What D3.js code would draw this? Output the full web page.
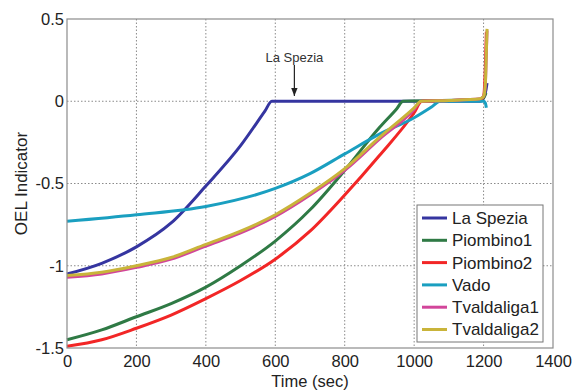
<!DOCTYPE html>
<html>
<head>
<meta charset="utf-8">
<script src="https://cdn.jsdelivr.net/npm/d3@7"></script>
<style>
  body { margin: 0; background: #fff; }
  svg { font-family: "Liberation Sans", Arial, sans-serif; }
  .grid line { stroke: #8a8a8a; stroke-dasharray: 1.5,2; }
  .axis text { font-size: 16.5px; fill: #222; }
  .axis path, .axis line { display: none; }
</style>
</head>
<body>
<svg width="575" height="392"></svg>
<script>
// series names and colours
const names = ["La Spezia", "Piombino1", "Piombino2", "Vado", "Tvaldaliga1", "Tvaldaliga2"];
const colors = ["#3535a0", "#2f7a45", "#f22626", "#1a9fc0", "#d2459a", "#c9b43a"];

// values (time in sec, OEL indicator)
const laSpeziaT = [0, 100, 200, 300, 400, 500, 570, 590, 1190, 1200, 1207, 1210];
const laSpeziaV = [-1.05, -0.985, -0.885, -0.74, -0.515, -0.27, -0.06, 0, 0, 0.02, 0.07, 0.11];

const piombino1T = [0, 100, 200, 300, 400, 500, 600, 700, 800, 900, 950, 968, 1190, 1200, 1207];
const piombino1V = [-1.45, -1.39, -1.31, -1.23, -1.13, -1.0, -0.85, -0.66, -0.42, -0.16, -0.045, 0, 0.01, 0.02, 0.05];

const piombino2T = [0, 100, 200, 300, 400, 500, 600, 700, 800, 900, 1000, 1022, 1190, 1200, 1205, 1208];
const piombino2V = [-1.49, -1.45, -1.38, -1.3, -1.2, -1.09, -0.96, -0.79, -0.57, -0.33, -0.07, 0, 0.01, 0.03, 0.2, 0.42];

const vadoT = [0, 200, 400, 600, 700, 800, 900, 1000, 1050, 1075, 1200, 1205, 1208];
const vadoV = [-0.73, -0.69, -0.64, -0.53, -0.44, -0.32, -0.2, -0.1, -0.035, 0, 0, -0.01, -0.04];

const tval1T = [0, 100, 200, 300, 400, 500, 600, 700, 800, 900, 1000, 1020, 1100, 1190, 1200, 1205, 1208, 1210];
const tval1V = [-1.07, -1.05, -1.01, -0.96, -0.88, -0.8, -0.7, -0.57, -0.42, -0.23, -0.05, 0, 0.005, 0.015, 0.03, 0.1, 0.3, 0.43];

const tval2T = [0, 100, 200, 300, 400, 500, 600, 700, 800, 900, 1000, 1020, 1100, 1190, 1200, 1205, 1208, 1210];
const tval2V = [-1.06, -1.04, -1.0, -0.95, -0.87, -0.79, -0.69, -0.56, -0.41, -0.22, -0.04, 0, 0.005, 0.015, 0.03, 0.1, 0.3, 0.44];

const xTicks = [0, 200, 400, 600, 800, 1000, 1200, 1400];
const yTicks = [0.5, 0, -0.5, -1, -1.5];

const seriesT = [laSpeziaT, piombino1T, piombino2T, vadoT, tval1T, tval2T];
const seriesV = [laSpeziaV, piombino1V, piombino2V, vadoV, tval1V, tval2V];

const svg = d3.select("svg"),
    margin = {top: 19, right: 22, bottom: 44, left: 67},
    width = +svg.attr("width") - margin.left - margin.right,
    height = +svg.attr("height") - margin.top - margin.bottom;

const x = d3.scaleLinear().domain([0, 1400]).range([0, width]),
    y = d3.scaleLinear().domain([-1.5, 0.5]).range([height, 0]);

const g = svg.append("g").attr("transform", "translate(" + margin.left + "," + margin.top + ")");

// dotted grid
g.append("g").attr("class", "grid")
  .selectAll("line").data(xTicks.slice(1, -1)).enter().append("line")
  .attr("x1", d => x(d)).attr("x2", d => x(d)).attr("y1", 0).attr("y2", height);
g.append("g").attr("class", "grid")
  .selectAll("line").data(yTicks.slice(1, -1)).enter().append("line")
  .attr("y1", d => y(d)).attr("y2", d => y(d)).attr("x1", 0).attr("x2", width);

// axes
g.append("g").attr("class", "axis")
  .attr("transform", "translate(0," + height + ")")
  .call(d3.axisBottom(x).tickValues(xTicks).tickSize(0).tickPadding(7.5).tickFormat(d3.format("d")));
g.append("g").attr("class", "axis")
  .call(d3.axisLeft(y).tickValues(yTicks).tickSize(0).tickPadding(3).tickFormat(d => d));

// lines
const line = d3.line().curve(d3.curveMonotoneX).x(d => x(d[0])).y(d => y(d[1]));
seriesT.forEach((ts, i) => {
  g.append("path")
    .datum(ts.map((t, j) => [t, seriesV[i][j]]))
    .attr("fill", "none")
    .attr("stroke", colors[i])
    .attr("stroke-width", 3)
    .attr("stroke-linejoin", "round")
    .attr("d", line);
});

// frame
g.append("rect").attr("width", width).attr("height", height)
  .attr("fill", "none").attr("stroke", "#8c8c8c").attr("stroke-width", 1.2);

// annotation
svg.append("defs").append("marker")
  .attr("id", "arr").attr("viewBox", "0 0 10 10").attr("refX", 10).attr("refY", 5)
  .attr("markerWidth", 7).attr("markerHeight", 7).attr("orient", "auto")
  .append("path").attr("d", "M0,1 L10,5 L0,9 Z").attr("fill", "#222");
g.append("text").attr("x", x(655)).attr("y", 43).attr("text-anchor", "middle")
  .style("font-size", "13px").attr("fill", "#333").text("La Spezia");
g.append("line").attr("x1", x(655)).attr("x2", x(655)).attr("y1", 46).attr("y2", 77)
  .attr("stroke", "#222").attr("stroke-width", 1.2).attr("marker-end", "url(#arr)");

// legend
const lg = svg.append("g").attr("transform", "translate(417,205)");
lg.append("rect").attr("width", 126).attr("height", 137)
  .attr("fill", "#fff").attr("stroke", "#777").attr("stroke-width", 1);
names.forEach((n, i) => {
  const yy = 13 + i * 22.3;
  lg.append("line").attr("x1", 5).attr("x2", 30).attr("y1", yy).attr("y2", yy)
    .attr("stroke", colors[i]).attr("stroke-width", 3);
  lg.append("text").attr("x", 35).attr("y", yy).attr("dy", "0.35em")
    .style("font-size", "17px").attr("fill", "#222").text(n);
});

// axis titles
svg.append("text").attr("x", margin.left + width / 2).attr("y", 386.5)
  .attr("text-anchor", "middle").style("font-size", "16.5px").attr("fill", "#222").text("Time (sec)");
svg.append("text").attr("transform", "translate(27," + (margin.top + height / 2) + ") rotate(-90)")
  .attr("text-anchor", "middle").style("font-size", "17px").attr("fill", "#222").text("OEL Indicator");
</script>
</body>
</html>
